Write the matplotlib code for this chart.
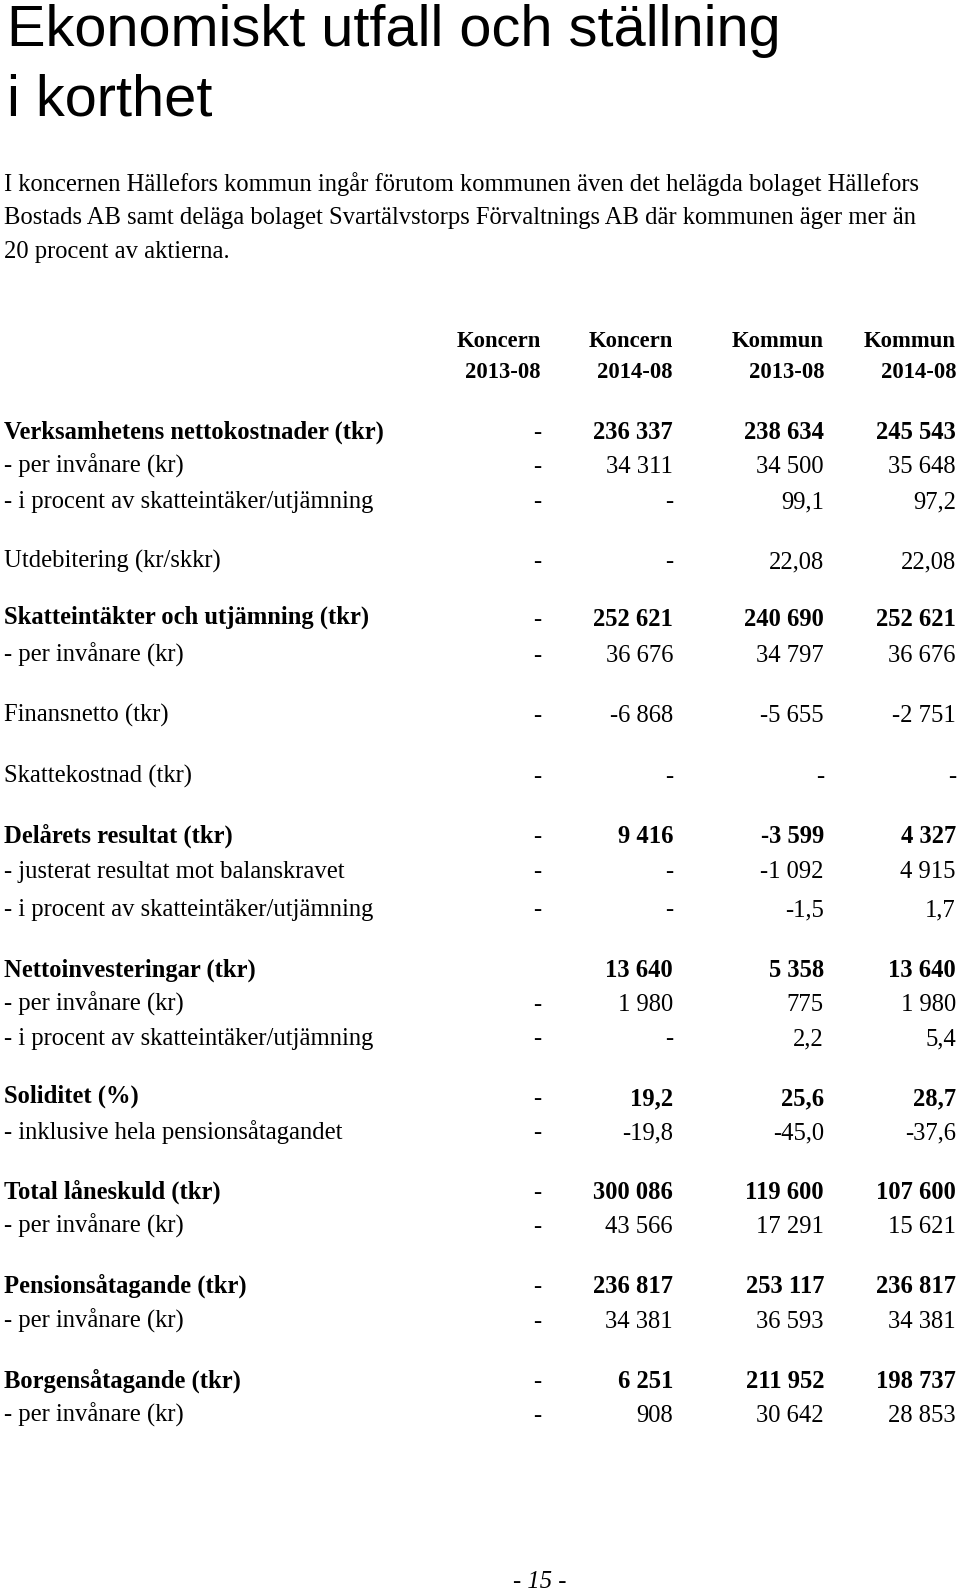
import matplotlib
matplotlib.use("Agg")
import matplotlib.pyplot as plt

title_lines = ["Ekonomiskt utfall och ställning", "i korthet"]
intro_lines = [
    "I koncernen Hällefors kommun ingår förutom kommunen även det helägda bolaget Hällefors",
    "Bostads AB samt deläga bolaget Svartälvstorps Förvaltnings AB där kommunen äger mer än",
    "20 procent av aktierna.",
]
col_head1 = ["Koncern", "Koncern", "Kommun", "Kommun"]
col_head2 = ["2013-08", "2014-08", "2013-08", "2014-08"]

row_labels = [
    "Verksamhetens nettokostnader (tkr)",
    "- per invånare (kr)",
    "- i procent av skatteintäker/utjämning",
    "Utdebitering (kr/skkr)",
    "Skatteintäkter och utjämning (tkr)",
    "- per invånare (kr)",
    "Finansnetto (tkr)",
    "Skattekostnad (tkr)",
    "Delårets resultat (tkr)",
    "- justerat resultat mot balanskravet",
    "- i procent av skatteintäker/utjämning",
    "Nettoinvesteringar (tkr)",
    "- per invånare (kr)",
    "- i procent av skatteintäker/utjämning",
    "Soliditet (%)",
    "- inklusive hela pensionsåtagandet",
    "Total låneskuld (tkr)",
    "- per invånare (kr)",
    "Pensionsåtagande (tkr)",
    "- per invånare (kr)",
    "Borgensåtagande (tkr)",
    "- per invånare (kr)",
]
koncern_2013 = ["-", "-", "-", "-", "-", "-", "-", "-", "-", "-", "-", "", "-", "-", "-", "-", "-", "-", "-", "-", "-", "-"]
koncern_2014 = ["236 337", "34 311", "-", "-", "252 621", "36 676", "-6 868", "-", "9 416", "-", "-",
                "13 640", "1 980", "-", "19,2", "-19,8", "300 086", "43 566", "236 817", "34 381", "6 251", "908"]
kommun_2013 = ["238 634", "34 500", "99,1", "22,08", "240 690", "34 797", "-5 655", "-", "-3 599", "-1 092", "-1,5",
               "5 358", "775", "2,2", "25,6", "-45,0", "119 600", "17 291", "253 117", "36 593", "211 952", "30 642"]
kommun_2014 = ["245 543", "35 648", "97,2", "22,08", "252 621", "36 676", "-2 751", "-", "4 327", "4 915", "1,7",
               "13 640", "1 980", "5,4", "28,7", "-37,6", "107 600", "15 621", "236 817", "34 381", "198 737", "28 853"]
bold_rows = [True, False, False, False, True, False, False, False, True, False, False,
             True, False, False, True, False, True, False, True, False, True, False]
page_number = "- 15 -"

# layout (pixel coordinates)
row_base = [439, 473, 508, 568, 626, 662, 722, 783, 843, 878, 916, 977, 1011, 1045,
            1105, 1139, 1199, 1233, 1293, 1328, 1388, 1422]
col_right = [541, 673, 824, 956]
SERIF = "Liberation Serif"
SANS = "Liberation Sans"
FS = 17.7
HFS = 16.3

fig = plt.figure(figsize=(9.6, 15.93), dpi=100)
ax = fig.add_axes([0, 0, 1, 1])
ax.set_xlim(0, 960)
ax.set_ylim(1593, 0)
ax.axis("off")

for t, yb in zip(title_lines, [46, 115]):
    ax.text(7, yb, t, family=SANS, fontsize=41.6, va="baseline", ha="left", color="black")

for t, yb in zip(intro_lines, [191, 224, 258]):
    ax.text(4, yb, t, family=SERIF, fontsize=FS, va="baseline", ha="left")

for h1, h2, x in zip(col_head1, col_head2, col_right):
    ax.text(x, 347, h1, family=SERIF, fontsize=HFS, weight="bold", va="baseline", ha="right")
    ax.text(x, 378, h2, family=SERIF, fontsize=HFS, weight="bold", va="baseline", ha="right")

cols = [koncern_2013, koncern_2014, kommun_2013, kommun_2014]
for i, (lab, yb, b) in enumerate(zip(row_labels, row_base, bold_rows)):
    wt = "bold" if b else "normal"
    ly = yb - 2 if lab.startswith(("Skatteintäkter", "Soliditet")) else yb
    ax.text(4, ly, lab, family=SERIF, fontsize=FS, weight=wt, va="baseline", ha="left")
    for c, x in zip(cols, col_right):
        v = c[i]
        if not v:
            continue
        vw = wt if v != "-" else "normal"
        ax.text(x, yb, v, family=SERIF, fontsize=FS, weight=vw, va="baseline", ha="right")

ax.text(540, 1588, page_number, family=SERIF, fontsize=FS, style="italic", va="baseline", ha="center")

fig.savefig("out.png", dpi=100, facecolor="white")
